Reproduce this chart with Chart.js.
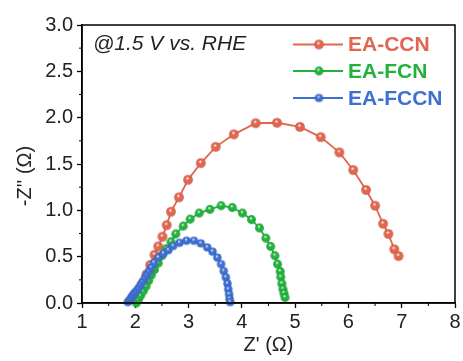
<!DOCTYPE html>
<html>
<head>
<meta charset="utf-8">
<script src="https://cdn.jsdelivr.net/npm/chart.js@4"></script>
<style>
  html, body { margin: 0; padding: 0; background: #fff; }
  #wrap { width: 463px; height: 361px; }
</style>
</head>
<body>
<div id="wrap"><canvas id="nyquist" width="463" height="361"></canvas></div>
<script>
// Series names / annotation / axis titles
const seriesNames = ['EA-CCN', 'EA-FCN', 'EA-FCCN'];
const note = '@1.5 V vs. RHE';
const xTitle = "Z' (\u03A9)";
const yTitle = "-Z'' (\u03A9)";

// Z' values (ohm)
const ccnX = [2.00, 2.07, 2.14, 2.21, 2.28, 2.36, 2.43, 2.51, 2.59, 2.67, 2.82, 2.99, 3.23, 3.51, 3.85, 4.26, 4.66, 5.09, 5.48, 5.83, 6.09, 6.33, 6.50, 6.65, 6.75, 6.86, 6.94];
// -Z'' values (ohm)
const ccnY = [0.04, 0.12, 0.21, 0.31, 0.41, 0.52, 0.61, 0.715, 0.84, 0.985, 1.14, 1.33, 1.51, 1.685, 1.82, 1.94, 1.945, 1.90, 1.79, 1.625, 1.435, 1.22, 1.05, 0.855, 0.745, 0.58, 0.507];

const fcnX = [2.02, 2.06, 2.10, 2.15, 2.20, 2.25, 2.30, 2.36, 2.43, 2.50, 2.58, 2.67, 2.76, 2.90, 3.03, 3.20, 3.40, 3.61, 3.82, 4.01, 4.18, 4.33, 4.45, 4.54, 4.62, 4.67, 4.72, 4.73, 4.75, 4.77, 4.79, 4.81];
const fcnY = [0.00, 0.04, 0.08, 0.13, 0.18, 0.24, 0.30, 0.36, 0.43, 0.51, 0.585, 0.66, 0.745, 0.83, 0.905, 0.97, 1.01, 1.05, 1.03, 0.97, 0.90, 0.81, 0.70, 0.61, 0.51, 0.42, 0.34, 0.28, 0.21, 0.15, 0.105, 0.06];

const fccnX = [1.86, 1.89, 1.92, 1.95, 1.98, 2.02, 2.06, 2.10, 2.14, 2.18, 2.22, 2.26, 2.30, 2.35, 2.43, 2.53, 2.62, 2.71, 2.83, 2.96, 3.10, 3.23, 3.35, 3.45, 3.54, 3.61, 3.66, 3.70, 3.73, 3.745, 3.76, 3.77, 3.78];
const fccnY = [0.01, 0.03, 0.055, 0.08, 0.105, 0.13, 0.16, 0.195, 0.23, 0.27, 0.305, 0.345, 0.385, 0.435, 0.49, 0.535, 0.57, 0.615, 0.65, 0.672, 0.672, 0.644, 0.60, 0.554, 0.49, 0.42, 0.345, 0.277, 0.21, 0.148, 0.094, 0.045, 0.01];

// Axis ticks
const xTicks = [1, 2, 3, 4, 5, 6, 7, 8];
const yTicks = [0, 0.5, 1, 1.5, 2, 2.5, 3];

const colors = ['#e2654f', '#22b23c', '#3e6fd2'];
const FONT = '"Liberation Sans", Arial, sans-serif';

// little shaded ball used as marker
function ball(color, r) {
    const s = Math.ceil(r * 2 + 2);
    const c = document.createElement('canvas');
    c.width = c.height = s;
    const g = c.getContext('2d');
    const m = s / 2;
    const grad = g.createRadialGradient(m - r * 0.15, m - r * 0.35, r * 0.05, m, m, r);
    grad.addColorStop(0, 'rgba(255,255,255,0.95)');
    grad.addColorStop(0.35, color);
    grad.addColorStop(1, color);
    g.fillStyle = grad;
    g.beginPath();
    g.arc(m, m, r, 0, Math.PI * 2);
    g.fill();
    g.strokeStyle = 'rgba(0,0,0,0.15)';
    g.lineWidth = 0.6;
    g.stroke();
    return c;
}

const balls = [ball(colors[0], 4.8), ball(colors[1], 4.4), ball(colors[2], 4.1)];

function toPoints(xs, ys) {
    return xs.map((x, i) => ({ x: x, y: ys[i] }));
}

// frame, minor ticks, y title, legend and note
const decorPlugin = {
    id: 'decor',
    afterDraw(chart) {
        const ctx = chart.ctx;
        const a = chart.chartArea;
        const sx = chart.scales.x, sy = chart.scales.y;
        ctx.save();
        ctx.strokeStyle = '#000';
        ctx.lineWidth = 1.5;
        ctx.strokeRect(a.left, a.top, a.right - a.left, a.bottom - a.top);

        // minor ticks
        ctx.lineWidth = 1;
        ctx.beginPath();
        for (let i = 0; i < xTicks.length - 1; i++) {
            const px = sx.getPixelForValue((xTicks[i] + xTicks[i + 1]) / 2);
            ctx.moveTo(px, a.bottom);
            ctx.lineTo(px, a.bottom + 3);
        }
        for (let i = 0; i < yTicks.length - 1; i++) {
            const py = sy.getPixelForValue((yTicks[i] + yTicks[i + 1]) / 2);
            ctx.moveTo(a.left, py);
            ctx.lineTo(a.left - 3, py);
        }
        ctx.stroke();

        // y title (sits a little below the axis middle in the original)
        ctx.fillStyle = '#222';
        ctx.font = '20px ' + FONT;
        ctx.textAlign = 'center';
        ctx.textBaseline = 'middle';
        ctx.save();
        ctx.translate(25, 176);
        ctx.rotate(-Math.PI / 2);
        ctx.fillText(yTitle, 0, 0);
        ctx.restore();

        // note
        ctx.textAlign = 'left';
        ctx.font = 'italic 21px ' + FONT;
        ctx.fillText(note, 93, 44);

        // legend
        const rows = [44.5, 71, 98];
        chart.data.datasets.forEach((ds, i) => {
            const y = rows[i];
            ctx.strokeStyle = colors[i];
            ctx.lineWidth = 1.8;
            ctx.beginPath();
            ctx.moveTo(293, y);
            ctx.lineTo(343, y);
            ctx.stroke();
            const b = balls[i];
            ctx.drawImage(b, 319 - b.width / 2, y - b.height / 2);
            ctx.fillStyle = colors[i];
            ctx.font = 'bold 21px ' + FONT;
            ctx.fillText(ds.label, 348, y + 1);
        });
        ctx.restore();
    }
};

const datasets = [
    { label: seriesNames[0], data: toPoints(ccnX, ccnY), borderColor: colors[0], pointStyle: balls[0], order: 3 },
    { label: seriesNames[1], data: toPoints(fcnX, fcnY), borderColor: colors[1], pointStyle: balls[1], order: 2 },
    { label: seriesNames[2], data: toPoints(fccnX, fccnY), borderColor: colors[2], pointStyle: balls[2], order: 1 }
].map(d => Object.assign(d, { showLine: true, borderWidth: 1.8, pointRadius: 4, clip: false }));

new Chart(document.getElementById('nyquist'), {
    type: 'scatter',
    data: { datasets: datasets },
    plugins: [decorPlugin],
    options: {
        responsive: false,
        animation: false,
        layout: { padding: { top: 25, right: 8, left: 0, bottom: 0 } },
        plugins: { legend: { display: false }, tooltip: { enabled: false } },
        scales: {
            x: {
                type: 'linear', min: 1, max: 8,
                afterFit: s => { s.height = 58; },
                afterBuildTicks: s => { s.ticks = xTicks.map(v => ({ value: v })); },
                ticks: { color: '#222', font: { family: FONT, size: 20 }, padding: 2, maxRotation: 0 },
                grid: { drawOnChartArea: false, drawTicks: true, tickLength: 5, tickColor: '#000', tickWidth: 1.3 },
                border: { display: true, color: '#000', width: 1.5 },
                title: { display: true, text: xTitle, color: '#222', font: { family: FONT, size: 20 }, padding: { top: 0, bottom: 4 } }
            },
            y: {
                type: 'linear', min: 0, max: 3,
                afterFit: s => { s.width = 82; },
                afterBuildTicks: s => { s.ticks = yTicks.map(v => ({ value: v })); },
                ticks: { color: '#222', font: { family: FONT, size: 20 }, padding: 4, callback: v => v.toFixed(1) },
                grid: { drawOnChartArea: false, drawTicks: true, tickLength: 5, tickColor: '#000', tickWidth: 1.3 },
                border: { display: true, color: '#000', width: 1.5 }
            }
        }
    }
});
</script>
</body>
</html>
